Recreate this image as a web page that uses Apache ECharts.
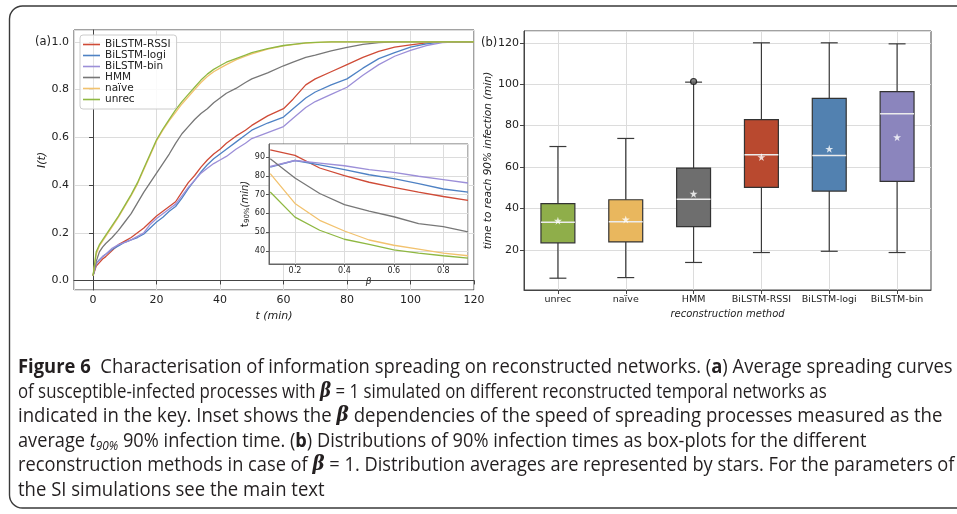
<!DOCTYPE html>
<html>
<head>
<meta charset="utf-8">
<script src="https://cdn.jsdelivr.net/npm/echarts@6/dist/echarts.min.js"></script>
<style>
  html, body { margin: 0; padding: 0; background: #fff; }
  #chart { width: 957px; height: 514px; }
</style>
</head>
<body>
<div id="chart"></div>
<script>
// 数据：(a) 平均传播曲线 I(t)
const timeMin = [0,1,2,3,4,6,8,10,12,14,16,18,20,22,24,26,28,30,32,34,36,38,40,42,45,48,50,55,60,63,67,70,75,80,85,90,95,100,105,110,115,120];
const curveRSSI = [.02,.06,.075,.09,.10,.125,.15,.165,.18,.20,.22,.245,.27,.29,.31,.33,.37,.41,.44,.475,.505,.53,.55,.575,.605,.63,.65,.69,.72,.76,.82,.845,.875,.905,.935,.96,.978,.988,.996,1,1,1];
const curveLogi = [.02,.07,.087,.10,.11,.13,.145,.16,.17,.18,.195,.22,.245,.265,.29,.31,.345,.385,.42,.455,.485,.51,.53,.55,.58,.61,.63,.66,.685,.72,.765,.79,.82,.845,.89,.93,.955,.978,.992,1,1,1];
const curveBin = [.02,.07,.085,.10,.11,.135,.15,.16,.17,.185,.20,.235,.26,.28,.30,.32,.355,.39,.42,.45,.47,.49,.505,.52,.55,.575,.595,.62,.645,.68,.725,.75,.78,.81,.86,.905,.94,.965,.985,.997,1,1];
const curveHMM = [.02,.08,.12,.14,.155,.18,.21,.245,.28,.325,.37,.41,.45,.49,.53,.575,.615,.645,.675,.70,.72,.745,.765,.785,.805,.83,.845,.87,.90,.915,.935,.945,.962,.977,.99,.997,1,1,1,1,1,1];
const curveNaive = [.02,.11,.145,.165,.185,.225,.265,.31,.355,.405,.465,.525,.585,.63,.67,.705,.74,.77,.80,.83,.855,.875,.89,.905,.925,.94,.95,.97,.983,.989,.995,.997,1,1,1,1,1,1,1,1,1,1];
const curveUnrec = [.02,.12,.15,.17,.19,.23,.27,.315,.36,.41,.47,.53,.59,.635,.675,.715,.75,.78,.81,.84,.865,.885,.90,.915,.93,.945,.955,.972,.985,.99,.996,.998,1,1,1,1,1,1,1,1,1,1];

// 插图：t90% 随 β 变化
const betaVals = [0.1,0.2,0.3,0.4,0.5,0.6,0.7,0.8,0.9];
const t90RSSI = [93.9,90.9,84.2,80.1,76.6,73.9,71.3,69.0,66.9];
const t90Logi = [84.7,88.2,85.9,83.3,80.6,78.5,75.9,73.0,71.3];
const t90Bin = [85.0,88.2,86.8,85.4,83.3,81.9,79.8,78.0,76.2];
const t90HMM = [89.1,78.9,70.6,64.7,61.2,58.2,54.5,52.9,50.1];
const t90Naive = [81.2,65.3,56.3,50.6,45.8,43.0,40.9,38.8,37.4];
const t90Unrec = [71.4,58.0,51.0,46.2,43.5,40.5,38.8,37.4,36.1];

// (b) 箱线图
const methods = ['unrec', 'naïve', 'HMM', 'BiLSTM-RSSI', 'BiLSTM-logi', 'BiLSTM-bin'];
const whiskerLow = [6.3, 6.6, 13.9, 18.7, 19.3, 18.7];
const quart1 = [23.4, 23.8, 31.2, 50.2, 48.4, 53.1];
const medians = [33.3, 33.6, 44.4, 65.9, 65.6, 85.7];
const quart3 = [42.3, 44.2, 59.5, 82.9, 93.2, 96.4];
const whiskerHigh = [69.9, 73.8, 101.0, 120.0, 120.0, 119.5];
const means = [34.1, 34.7, 47.1, 64.8, 68.8, 74.4];
const outliers = [[2, 101.3]];

const lineNames = ['BiLSTM-RSSI', 'BiLSTM-logi', 'BiLSTM-bin', 'HMM', 'naïve', 'unrec'];
const lineColors = ['#cf4b37', '#4f82c4', '#9c8fd8', '#777777', '#f2c26e', '#8fb842'];
const boxColors = ['#8fae4a', '#e9b75e', '#6e6e6e', '#b9492f', '#5281b0', '#8b85bd'];

const mainCurves = [curveRSSI, curveLogi, curveBin, curveHMM, curveNaive, curveUnrec];
const insetCurves = [t90RSSI, t90Logi, t90Bin, t90HMM, t90Naive, t90Unrec];

const chart = echarts.init(document.getElementById('chart'), null, { renderer: 'canvas' });

const tickFont = { fontFamily: 'DejaVu Sans', color: '#222' };
const gridLine = { show: true, lineStyle: { color: '#dcdcdc', width: 1 } };
const starPath = 'path://M50,0 L61,35 L98,35 L68,57 L79,91 L50,70 L21,91 L32,57 L2,35 L39,35 Z';

function pairs(xs, ys) {
  return xs.map((x, i) => [x, ys[i]]);
}

// 箱线图：须线、箱体、白色中位线
function renderBox(params, api) {
  const idx = api.value(0);
  const lo = api.coord([idx, api.value(1)]);
  const q1 = api.coord([idx, api.value(2)]);
  const med = api.coord([idx, api.value(3)]);
  const q3 = api.coord([idx, api.value(4)]);
  const hi = api.coord([idx, api.value(5)]);
  const band = api.size([1, 0])[0];
  const bw = band * 0.5;
  const cw = band * 0.25;
  const cx = lo[0];
  const ws = { stroke: '#3a3a3a', lineWidth: 1.2 };
  return {
    type: 'group',
    children: [
      { type: 'line', shape: { x1: cx, y1: hi[1], x2: cx, y2: q3[1] }, style: ws },
      { type: 'line', shape: { x1: cx, y1: q1[1], x2: cx, y2: lo[1] }, style: ws },
      { type: 'line', shape: { x1: cx - cw / 2, y1: hi[1], x2: cx + cw / 2, y2: hi[1] }, style: ws },
      { type: 'line', shape: { x1: cx - cw / 2, y1: lo[1], x2: cx + cw / 2, y2: lo[1] }, style: ws },
      { type: 'rect', shape: { x: cx - bw / 2, y: q3[1], width: bw, height: q1[1] - q3[1] },
        style: { fill: boxColors[idx], stroke: '#333', lineWidth: 1.2 } },
      { type: 'line', shape: { x1: cx - bw / 2, y1: med[1], x2: cx + bw / 2, y2: med[1] },
        style: { stroke: '#ececec', lineWidth: 1.6 } }
    ]
  };
}

const series = [];
lineNames.forEach((name, i) => {
  series.push({
    name: name, type: 'line', xAxisIndex: 0, yAxisIndex: 0,
    data: pairs(timeMin, mainCurves[i]), showSymbol: false, symbol: 'none',
    color: lineColors[i], lineStyle: { width: 1.3, color: lineColors[i] }, z: 2
  });
});
lineNames.forEach((name, i) => {
  series.push({
    name: name, type: 'line', xAxisIndex: 1, yAxisIndex: 1,
    data: pairs(betaVals, insetCurves[i]), showSymbol: false, symbol: 'none',
    color: lineColors[i], lineStyle: { width: 1.3, color: lineColors[i] }, z: 8
  });
});
series.push({
  type: 'custom', xAxisIndex: 2, yAxisIndex: 2,
  renderItem: renderBox,
  encode: { x: 0, y: [1, 2, 3, 4, 5] },
  data: methods.map((m, i) => [i, whiskerLow[i], quart1[i], medians[i], quart3[i], whiskerHigh[i]]),
  z: 3
});
series.push({
  type: 'scatter', xAxisIndex: 2, yAxisIndex: 2,
  data: outliers, symbol: 'circle', symbolSize: 6,
  itemStyle: { color: '#6a6a6a', borderColor: '#111', borderWidth: 1.2 }, z: 4
});
series.push({
  type: 'scatter', xAxisIndex: 2, yAxisIndex: 2,
  data: means.map((v, i) => [i, v]), symbol: starPath, symbolSize: 8,
  itemStyle: { color: '#ffffff' }, z: 5
});

// 图注（每行单独横向缩放，对齐原图行宽）
const capFont = 'Open Sans';
const capSize = 20;
const capStyle = { fontFamily: capFont, fontSize: capSize, fill: '#231f20' };
const capRich = {
  b: { fontFamily: capFont, fontSize: capSize, fontWeight: 'bold', fill: '#231f20' },
  beta: { fontFamily: 'DejaVu Serif', fontSize: capSize, fontStyle: 'italic', fontWeight: 'bold', fill: '#231f20' },
  ti: { fontFamily: capFont, fontSize: capSize, fontStyle: 'italic', fill: '#231f20' },
  sub: { fontFamily: capFont, fontSize: 13, fontStyle: 'italic', fill: '#231f20', verticalAlign: 'bottom', lineHeight: 24 }
};
const captionLines = [
  '{b|Figure 6}  Characterisation of information spreading on reconstructed networks. ({b|a}) Average spreading curves',
  'of susceptible-infected processes with {beta|β} = 1 simulated on different reconstructed temporal networks as',
  'indicated in the key. Inset shows the {beta|β} dependencies of the speed of spreading processes measured as the',
  'average {ti|t}{sub|90%} 90% infection time. ({b|b}) Distributions of 90% infection times as box-plots for the different',
  'reconstruction methods in case of {beta|β} = 1. Distribution averages are represented by stars. For the parameters of',
  'the SI simulations see the main text'
];
const captionY = [367, 392, 416, 441, 465, 490];
const captionScale = [0.92, 0.84, 0.93, 0.91, 0.912, 0.925];

const graphics = [
  { type: 'rect', shape: { x: 9.5, y: 6, width: 1000, height: 502, r: 13 },
    style: { fill: 'none', stroke: '#3a3a3a', lineWidth: 1.4 }, silent: true, z: 0 },
  { type: 'text', x: 35, y: 42.5, style: { text: '(a)', fontFamily: 'DejaVu Sans', fontSize: 11.5, fill: '#222', verticalAlign: 'middle' } },
  { type: 'text', x: 481, y: 43, style: { text: '(b)', fontFamily: 'DejaVu Sans', fontSize: 11.5, fill: '#222', verticalAlign: 'middle' } }
];
captionLines.forEach((line, i) => {
  graphics.push({
    type: 'text', x: 18, y: captionY[i], scaleX: captionScale[i],
    style: Object.assign({ text: line, rich: capRich, verticalAlign: 'middle', lineHeight: 24 }, capStyle)
  });
});

const option = {
  animation: false,
  backgroundColor: '#fff',
  grid: [
    { left: 74, top: 30, width: 400, height: 260, show: true, borderColor: '#444', borderWidth: 1 },
    { left: 269, top: 144, width: 199, height: 120, show: true, backgroundColor: '#fff', borderColor: '#666', borderWidth: 1, z: 5 },
    { left: 524, top: 31, width: 407, height: 259, show: true, borderColor: '#444', borderWidth: 1 }
  ],
  xAxis: [
    { type: 'value', gridIndex: 0, min: -6, max: 120, splitNumber: 6, minInterval: 20, maxInterval: 20,
      axisLine: { show: true, lineStyle: { color: '#444' } },
      axisTick: { show: true, length: 4, lineStyle: { color: '#444' } },
      axisLabel: Object.assign({ fontSize: 11, margin: 5, showMinLabel: false }, tickFont),
      splitLine: gridLine,
      name: 't (min)', nameLocation: 'middle', nameGap: 15,
      nameTextStyle: { fontFamily: 'DejaVu Sans', fontStyle: 'italic', fontSize: 11, color: '#222' } },
    { type: 'value', gridIndex: 1, min: 0.095, max: 0.9, splitNumber: 4, minInterval: 0.2, maxInterval: 0.2, z: 6,
      axisLine: { show: true, lineStyle: { color: '#666' } },
      axisTick: { show: true, length: 3, lineStyle: { color: '#555' } },
      axisLabel: Object.assign({ fontSize: 8, margin: 3, showMinLabel: false, showMaxLabel: false,
        formatter: v => v.toFixed(1) }, tickFont),
      splitLine: gridLine,
      name: 'β', nameLocation: 'middle', nameGap: 13,
      nameTextStyle: { fontFamily: 'DejaVu Sans', fontStyle: 'italic', fontSize: 9, color: '#222' } },
    { type: 'category', gridIndex: 2, data: methods, boundaryGap: true,
      axisLine: { show: true, lineStyle: { color: '#444' } },
      axisTick: { show: true, length: 4, alignWithLabel: true, lineStyle: { color: '#444' } },
      axisLabel: Object.assign({ fontSize: 9.5, margin: 5, interval: 0 }, tickFont),
      splitLine: { show: true, alignWithLabel: true, interval: 0, lineStyle: { color: '#dcdcdc', width: 1 } },
      name: 'reconstruction method', nameLocation: 'middle', nameGap: 17,
      nameTextStyle: { fontFamily: 'DejaVu Sans', fontStyle: 'italic', fontSize: 10, color: '#222' } }
  ],
  yAxis: [
    { type: 'value', gridIndex: 0, min: -0.04, max: 1.05, splitNumber: 5, minInterval: 0.2, maxInterval: 0.2,
      axisLine: { show: true, lineStyle: { color: '#444' } },
      axisTick: { show: true, length: 4, lineStyle: { color: '#444' } },
      axisLabel: Object.assign({ fontSize: 11, margin: 5, showMinLabel: false, showMaxLabel: false,
        formatter: v => v.toFixed(1) }, tickFont),
      splitLine: gridLine,
      name: 'I(t)', nameLocation: 'middle', nameGap: 23,
      nameTextStyle: { fontFamily: 'DejaVu Sans', fontStyle: 'italic', fontSize: 11, color: '#222' } },
    { type: 'value', gridIndex: 1, min: 33, max: 97, splitNumber: 6, minInterval: 10, maxInterval: 10, z: 6,
      axisLine: { show: true, lineStyle: { color: '#666' } },
      axisTick: { show: true, length: 3, lineStyle: { color: '#555' } },
      axisLabel: Object.assign({ fontSize: 8, margin: 4, showMinLabel: false, showMaxLabel: false }, tickFont),
      splitLine: gridLine,
      name: '{t|t}{s|90%}{n|(min)}', nameLocation: 'middle', nameGap: 15,
      nameTextStyle: { fontFamily: 'DejaVu Sans', fontSize: 10, color: '#222',
        rich: {
          t: { fontFamily: 'DejaVu Sans', fontSize: 10.5, color: '#222' },
          s: { fontFamily: 'DejaVu Sans', fontSize: 7, color: '#222', verticalAlign: 'bottom' },
          n: { fontFamily: 'DejaVu Sans', fontSize: 10, fontStyle: 'italic', color: '#222' }
        } } },
    { type: 'value', gridIndex: 2, min: 0.6, max: 125.7, splitNumber: 6, minInterval: 20, maxInterval: 20,
      axisLine: { show: true, lineStyle: { color: '#444' } },
      axisTick: { show: true, length: 4, lineStyle: { color: '#444' } },
      axisLabel: Object.assign({ fontSize: 11, margin: 5, showMinLabel: false, showMaxLabel: false }, tickFont),
      splitLine: gridLine,
      name: 'time to reach 90% infection (min)', nameLocation: 'middle', nameGap: 27,
      nameTextStyle: { fontFamily: 'DejaVu Sans', fontStyle: 'italic', fontSize: 10.5, color: '#222' } }
  ],
  legend: {
    data: lineNames, orient: 'vertical', left: 80, top: 35,
    icon: 'rect', itemWidth: 17, itemHeight: 1.6, itemGap: 0,
    padding: [4, 6, 4, 3],
    backgroundColor: 'rgba(255,255,255,0.85)', borderColor: '#cccccc', borderWidth: 1, borderRadius: 3,
    textStyle: { fontFamily: 'DejaVu Sans', fontSize: 10.5, lineHeight: 10, color: '#222' },
    selectedMode: false
  },
  graphic: graphics,
  series: series
};

chart.setOption(option);
</script>
</body>
</html>
